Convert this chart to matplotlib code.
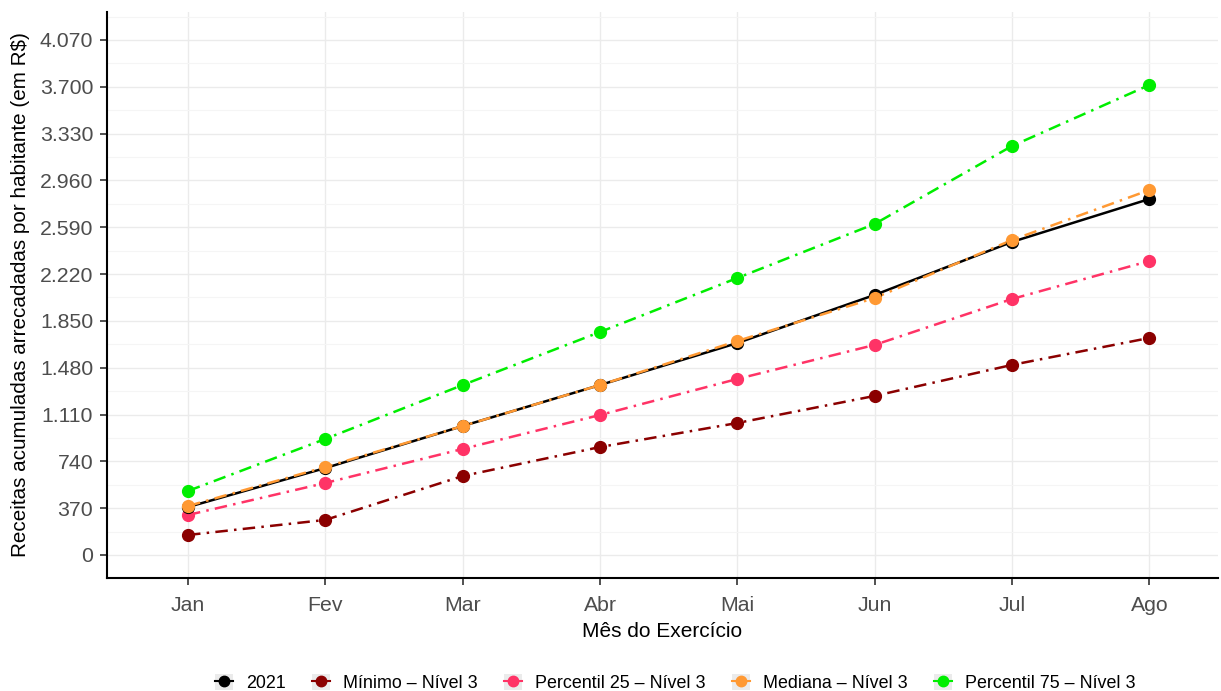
import matplotlib
matplotlib.use("Agg")
import matplotlib.pyplot as plt
from matplotlib.lines import Line2D
from matplotlib.patches import Rectangle
from matplotlib.legend_handler import HandlerTuple
from matplotlib.ticker import FixedLocator

plt.rcParams['font.family'] = ['Liberation Sans', 'DejaVu Sans']

meses = ["Jan", "Fev", "Mar", "Abr", "Mai", "Jun", "Jul", "Ago"]
s2021 = [379, 687, 1019, 1343, 1675, 2055, 2474, 2813]
minimo = [158, 277, 624, 853, 1043, 1257, 1502, 1715]
p25 = [316, 569, 838, 1106, 1391, 1660, 2023, 2323]
mediana = [387, 695, 1019, 1343, 1691, 2031, 2489, 2884]
p75 = [506, 917, 1343, 1762, 2189, 2616, 3232, 3714]
yticks = [0, 370, 740, 1110, 1480, 1850, 2220, 2590, 2960, 3330, 3700, 4070]
ytick_labels = ["0", "370", "740", "1.110", "1.480", "1.850", "2.220", "2.590",
                "2.960", "3.330", "3.700", "4.070"]

series = [
    ("Mínimo – Nível 3", minimo, "#8B0000", (0, (5, 2.5, 1, 2.5))),
    ("Percentil 25 – Nível 3", p25, "#FF3366", (0, (5, 2.5, 1, 2.5))),
    ("Percentil 75 – Nível 3", p75, "#00EE00", (0, (5, 2.5, 1, 2.5))),
    ("2021", s2021, "#000000", "-"),
    ("Mediana – Nível 3", mediana, "#FF9933", (0, (5, 2.5, 1, 2.5))),
]

fig = plt.figure(figsize=(12.21, 6.91), dpi=100)
ax = fig.add_axes([107/1221, 1 - 578/691, (1218-107)/1221, (578-12)/691])

x = list(range(len(meses)))
for name, vals, col, ls in series:
    ax.plot(x, vals, color=col, linestyle=ls, linewidth=1.8, zorder=3)
    ax.plot(x, vals, color=col, linestyle='none', marker='o', markersize=8.5, zorder=4)

ax.set_xlim(-0.59, 7.5)
ax.set_ylim(-182, 4291)
ax.set_xticks(x)
ax.set_xticklabels(meses)
ax.set_yticks(yticks)
ax.set_yticklabels(ytick_labels)
minor = [(yticks[i] + yticks[i+1]) / 2 for i in range(len(yticks)-1)] + [4255]
ax.yaxis.set_minor_locator(FixedLocator(minor))
ax.grid(True, which='major', color='#EBEBEB', linewidth=1.0, zorder=0)
ax.grid(True, which='minor', axis='y', color='#F5F5F5', linewidth=0.8, zorder=0)
ax.tick_params(axis='both', which='major', labelsize=15.3, labelcolor='#4D4D4D',
               length=5, width=1.2, color='#333333')
ax.tick_params(axis='x', which='major', pad=8)
ax.tick_params(axis='y', which='major', pad=5)
ax.tick_params(axis='y', which='minor', length=0)
for s in ['top', 'right']:
    ax.spines[s].set_visible(False)
for s in ['left', 'bottom']:
    ax.spines[s].set_linewidth(1.5)
    ax.spines[s].set_color('black')
ax.set_axisbelow(True)

ax.set_xlabel("Mês do Exercício", fontsize=15, labelpad=5)
ax.set_ylabel("Receitas acumuladas arrecadadas por habitante (em R$)", fontsize=14.9, labelpad=7)

order = ["2021", "Mínimo – Nível 3", "Percentil 25 – Nível 3", "Mediana – Nível 3", "Percentil 75 – Nível 3"]
cmap = {n: c for n, v, c, l in series}
handles = []
for n in order:
    bg = Rectangle((0, 0), 1, 1, facecolor='#EBEBEB', edgecolor='none')
    ln = Line2D([0], [0], color=cmap[n], marker='o', markersize=7.5, linewidth=1.5)
    handles.append((bg, ln))
leg = fig.legend(handles, order, loc='center', bbox_to_anchor=(0.553, 1 - 683/691), ncol=5,
                 frameon=False, fontsize=12.9, handlelength=1.0, handleheight=1.0,
                 columnspacing=1.45, handletextpad=0.75,
                 handler_map={tuple: HandlerTuple(ndivide=1)})

fig.savefig("out.png", dpi=100)
